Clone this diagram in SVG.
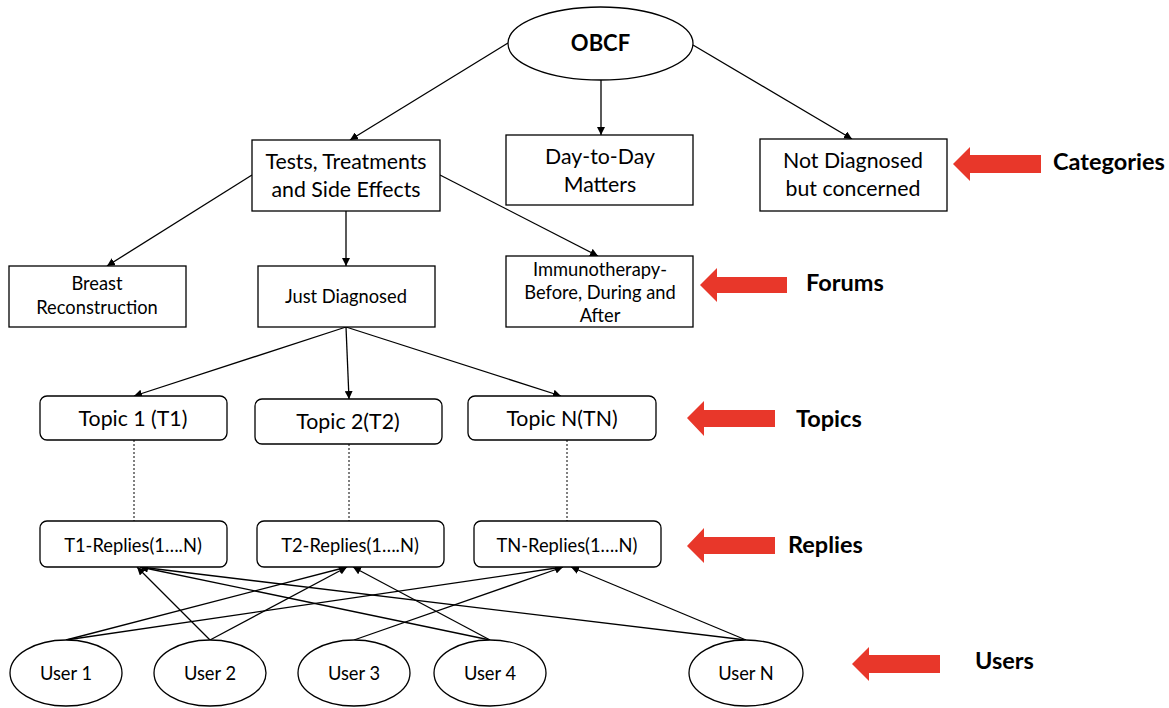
<svg xmlns="http://www.w3.org/2000/svg" width="1169" height="708" viewBox="0 0 1169 708">
<style>
.box{fill:#fff;stroke:#000;stroke-width:1.3}
.t{font-family:Lato,"Open Sans","Liberation Sans",sans-serif;fill:#000;text-anchor:middle}
.L{font-size:21.3px}
.S{font-size:18.3px}
.b{font-family:Lato,"Open Sans","Liberation Sans",sans-serif;font-weight:bold;fill:#000;font-size:23.5px}
.c{stroke:#000;stroke-width:1.3;fill:none;marker-end:url(#ah)}
.d{stroke:#000;stroke-width:1;stroke-dasharray:2 2;fill:none}
.red{fill:#e8372a}
</style>
<defs>
<marker id="ah" viewBox="0 0 10 10" refX="10" refY="5" markerWidth="8" markerHeight="8" markerUnits="userSpaceOnUse" orient="auto">
<path d="M0,0 L10,5 L0,10 z" fill="#000"/>
</marker>
</defs>
<rect width="1169" height="708" fill="#fff"/>
<g id="connectors">
<line class="c" x1="508" y1="43" x2="350" y2="140"/>
<line class="c" x1="601" y1="80" x2="601" y2="135"/>
<line class="c" x1="693" y1="45" x2="852" y2="139"/>
<line class="c" x1="252" y1="175" x2="107" y2="266"/>
<line class="c" x1="346" y1="211" x2="346" y2="266"/>
<line class="c" x1="440" y1="175" x2="598" y2="256"/>
<line class="c" x1="346" y1="327" x2="134" y2="396"/>
<line class="c" x1="346" y1="327" x2="349" y2="399"/>
<line class="c" x1="346" y1="327" x2="561" y2="396"/>
<line class="d" x1="134" y1="440" x2="134" y2="521"/>
<line class="d" x1="349" y1="444" x2="349" y2="521"/>
<line class="d" x1="567" y1="440" x2="567" y2="521"/>
<line class="c" x1="66" y1="640" x2="347" y2="567"/>
<line class="c" x1="66" y1="640" x2="563" y2="567"/>
<line class="c" x1="210" y1="640" x2="137" y2="567"/>
<line class="c" x1="210" y1="640" x2="347" y2="567"/>
<line class="c" x1="354" y1="640" x2="563" y2="567"/>
<line class="c" x1="490" y1="640" x2="140" y2="567"/>
<line class="c" x1="490" y1="640" x2="353" y2="567"/>
<line class="c" x1="746" y1="640" x2="140" y2="567"/>
<line class="c" x1="746" y1="640" x2="571" y2="567"/>
</g>
<g id="obcf">
<ellipse class="box" cx="600.5" cy="43.5" rx="92.5" ry="36.5"/>
<text class="b" x="600.5" y="51" font-size="22" style="font-size:22px" text-anchor="middle">OBCF</text>
</g>
<g id="tests">
<rect class="box" x="252" y="140" width="188" height="71"/>
<text class="t L" x="346" y="169">Tests, Treatments</text>
<text class="t L" x="346" y="197">and Side Effects</text>
</g>
<g id="daytoday">
<rect class="box" x="506" y="135" width="187" height="70"/>
<text class="t L" x="600" y="164">Day-to-Day</text>
<text class="t L" x="600" y="192">Matters</text>
</g>
<g id="notdiag">
<rect class="box" x="760" y="139" width="187" height="72"/>
<text class="t L" x="853" y="168">Not Diagnosed</text>
<text class="t L" x="853" y="196">but concerned</text>
</g>
<g id="breast">
<rect class="box" x="9" y="266" width="177" height="61"/>
<text class="t S" x="97" y="290">Breast</text>
<text class="t S" x="97" y="314">Reconstruction</text>
</g>
<g id="justdiag">
<rect class="box" x="258" y="266" width="177" height="61"/>
<text class="t S" x="346" y="303">Just Diagnosed</text>
</g>
<g id="immuno">
<rect class="box" x="506" y="256" width="187" height="71"/>
<text class="t S" x="600" y="276">Immunotherapy-</text>
<text class="t S" x="600" y="299">Before, During and</text>
<text class="t S" x="600" y="322">After</text>
</g>
<g id="topic1">
<rect class="box" x="40" y="396" width="187" height="44" rx="7"/>
<text class="t L" x="133" y="426">Topic 1 (T1)</text>
</g>
<g id="topic2">
<rect class="box" x="255" y="399" width="187" height="45" rx="7"/>
<text class="t L" x="348" y="429">Topic 2(T2)</text>
</g>
<g id="topicN">
<rect class="box" x="468" y="396" width="188" height="44" rx="7"/>
<text class="t L" x="562" y="426">Topic N(TN)</text>
</g>
<g id="replies1">
<rect class="box" x="40" y="521" width="187" height="46" rx="7"/>
<text class="t S" x="133" y="552">T1-Replies(1….N)</text>
</g>
<g id="replies2">
<rect class="box" x="257" y="521" width="187" height="46" rx="7"/>
<text class="t S" x="350" y="552">T2-Replies(1….N)</text>
</g>
<g id="repliesN">
<rect class="box" x="474" y="521" width="187" height="46" rx="7"/>
<text class="t S" x="567" y="552">TN-Replies(1….N)</text>
</g>
<g id="user1">
<ellipse class="box" cx="66" cy="673" rx="56" ry="33"/>
<text class="t S" x="66" y="680">User 1</text>
</g>
<g id="user2">
<ellipse class="box" cx="210" cy="673" rx="56" ry="33"/>
<text class="t S" x="210" y="680">User 2</text>
</g>
<g id="user3">
<ellipse class="box" cx="354" cy="673" rx="56" ry="33"/>
<text class="t S" x="354" y="680">User 3</text>
</g>
<g id="user4">
<ellipse class="box" cx="490" cy="673" rx="56" ry="33"/>
<text class="t S" x="490" y="680">User 4</text>
</g>
<g id="userN">
<ellipse class="box" cx="746" cy="673" rx="57" ry="33"/>
<text class="t S" x="746" y="680">User N</text>
</g>
<g id="label-categories">
<polygon class="red" points="953,164 970,147 970,155 1041,155 1041,173 970,173 970,181"/>
<text class="b" x="1053" y="170">Categories</text>
</g>
<g id="label-forums">
<polygon class="red" points="700,285 717,268 717,277 787,277 787,293 717,293 717,302"/>
<text class="b" x="806" y="291">Forums</text>
</g>
<g id="label-topics">
<polygon class="red" points="687,418 704,401 704,410 775,410 775,427 704,427 704,436"/>
<text class="b" x="796" y="427">Topics</text>
</g>
<g id="label-replies">
<polygon class="red" points="687,546 704,528 704,537 775,537 775,554 704,554 704,563"/>
<text class="b" x="788" y="553">Replies</text>
</g>
<g id="label-users">
<polygon class="red" points="852,664 869,647 869,655 940,655 940,673 869,673 869,681"/>
<text class="b" x="975" y="669">Users</text>
</g>
</svg>
